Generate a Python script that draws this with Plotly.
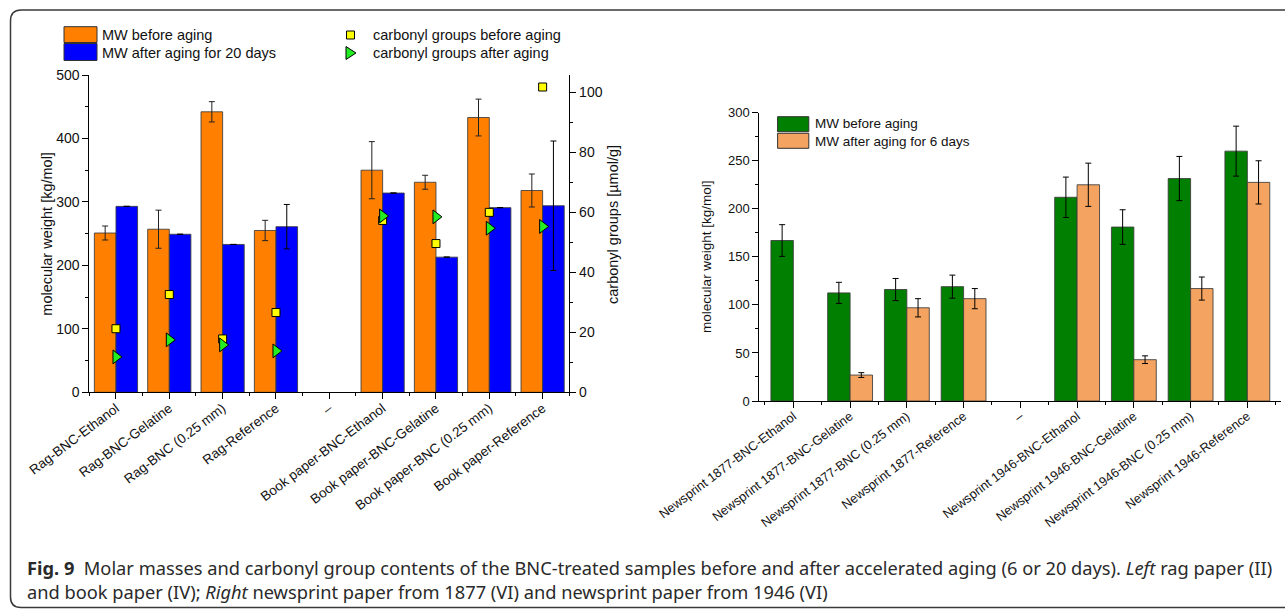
import plotly.graph_objects as go

# ---------------- data ----------------
cats_left = ["Rag-BNC-Ethanol", "Rag-BNC-Gelatine", "Rag-BNC (0.25 mm)", "Rag-Reference", "–",
             "Book paper-BNC-Ethanol", "Book paper-BNC-Gelatine", "Book paper-BNC (0.25 mm)",
             "Book paper-Reference"]
mw_before_left = [251, 257, 442, 255, None, 350, 331, 433, 318]
mw_before_left_err = [11, 30, 16, 16, None, 45, 11, 29, 26]
mw_after20 = [293, 249, 233, 261, None, 314, 213, 291, 294]
mw_after20_err = [None, None, None, 35, None, None, None, None, 102]
carbonyl_before = [21.2, 32.6, 17.8, 26.6, None, 57.3, 49.6, 60.0, 101.8]
carbonyl_after = [11.8, 17.5, 15.8, 13.8, None, 58.8, 58.5, 54.7, 55.3]

cats_right = ["Newsprint 1877-BNC-Ethanol", "Newsprint 1877-BNC-Gelatine", "Newsprint 1877-BNC (0.25 mm)",
              "Newsprint 1877-Reference", "–", "Newsprint 1946-BNC-Ethanol", "Newsprint 1946-BNC-Gelatine",
              "Newsprint 1946-BNC (0.25 mm)", "Newsprint 1946-Reference"]
mw_before_right = [167, 112.5, 116, 119, None, 212, 181, 231.5, 260]
mw_before_right_err = [16.5, 11, 11.5, 12, None, 21, 18, 23, 26]
mw_after6 = [None, 27, 97, 106.5, None, 225, 43, 117, 227.5]
mw_after6_err = [None, 2.5, 9.5, 10.5, None, 22.5, 4, 12, 22.5]

W, H = 1285, 609
def px(x):
    return x / W
def py(y):
    return 1 - y / H

xl = list(range(len(cats_left)))
xr = list(range(len(cats_right)))

ORANGE = "#FF7F00"
BLUE = "#0000FF"
GREEN = "#007F00"
LORANGE = "#F4A460"
EDGE = "rgba(60,60,60,0.85)"
FONT = "Liberation Sans, Arial, sans-serif"

fig = go.Figure()

def errs(vals):
    return [v if v is not None else float("nan") for v in vals]

bw_l = 0.405
fig.add_trace(go.Bar(x=xl, y=mw_before_left, width=bw_l, offset=-bw_l,
                     marker=dict(color=ORANGE, line=dict(color=EDGE, width=1)),
                     error_y=dict(type="data", array=errs(mw_before_left_err), color="#222", thickness=1, width=3),
                     xaxis="x", yaxis="y", showlegend=False))
fig.add_trace(go.Bar(x=xl, y=mw_after20, width=bw_l, offset=0,
                     marker=dict(color=BLUE, line=dict(color=EDGE, width=1)),
                     error_y=dict(type="data", array=errs(mw_after20_err), color="#000", thickness=1, width=3),
                     xaxis="x", yaxis="y", showlegend=False))
fig.add_trace(go.Scatter(x=xl, y=carbonyl_before, mode="markers",
                         marker=dict(symbol="square", size=8, color="#FFFF00", line=dict(color="#000", width=1)),
                         xaxis="x", yaxis="y2", showlegend=False))
fig.add_trace(go.Scatter(x=xl, y=carbonyl_after, mode="markers",
                         marker=dict(symbol="triangle-right", size=12, color="#22EE22", line=dict(color="#000", width=1)),
                         xaxis="x", yaxis="y2", showlegend=False))

bw_r = 0.395
fig.add_trace(go.Bar(x=xr, y=mw_before_right, width=bw_r, offset=-bw_r,
                     marker=dict(color=GREEN, line=dict(color=EDGE, width=1)),
                     error_y=dict(type="data", array=errs(mw_before_right_err), color="#000", thickness=1, width=3),
                     xaxis="x2", yaxis="y3", showlegend=False))
fig.add_trace(go.Bar(x=xr, y=mw_after6, width=bw_r, offset=0,
                     marker=dict(color=LORANGE, line=dict(color=EDGE, width=1)),
                     error_y=dict(type="data", array=errs(mw_after6_err), color="#000", thickness=1, width=3),
                     xaxis="x2", yaxis="y3", showlegend=False))

axis_common = dict(showgrid=False, zeroline=False, showline=True, linecolor="#000", linewidth=1,
                   ticks="outside", tickcolor="#000", ticklen=6, tickwidth=1, automargin=False)

fig.update_layout(
    width=W, height=H, margin=dict(l=0, r=0, t=0, b=0),
    paper_bgcolor="white", plot_bgcolor="rgba(0,0,0,0)", barmode="overlay",
    font=dict(family=FONT, color="#111"),
    xaxis=dict(domain=[px(89.3), px(569.3)], range=[-0.5, 8.5], anchor="y",
               tickmode="array", tickvals=xl, ticktext=cats_left, tickangle=-37,
               tickfont=dict(size=13.5, family=FONT), ticklabelstandoff=-4,
               minor=dict(tickmode="array", tickvals=[i + 0.5 for i in range(-1, 9)], ticklen=3,
                          ticks="outside", tickcolor="#000"),
               **axis_common),
    yaxis=dict(domain=[py(392.3), py(75)], range=[0, 500], dtick=100, anchor="x",
               tickfont=dict(size=14, family=FONT),
               minor=dict(dtick=50, ticklen=3, ticks="outside", tickcolor="#000"),
               **axis_common),
    yaxis2=dict(overlaying="y", side="right", range=[0, 105.8], dtick=20, anchor="x",
                tickfont=dict(size=14, family=FONT),
                minor=dict(dtick=10, ticklen=3, ticks="outside", tickcolor="#000"),
                **axis_common),
    xaxis2=dict(domain=[px(759.3), px(1281.4)], range=[-0.6, 8.6], anchor="y3",
                tickmode="array", tickvals=xr, ticktext=cats_right, tickangle=-37,
                tickfont=dict(size=12.8, family=FONT), ticklabelstandoff=-4,
                minor=dict(tickmode="array", tickvals=[i + 0.5 for i in range(-1, 9)], ticklen=3,
                           ticks="outside", tickcolor="#000"),
                **axis_common),
    yaxis3=dict(domain=[py(401), py(112.7)], range=[0, 300], dtick=50, anchor="x2",
                tickfont=dict(size=13, family=FONT),
                minor=dict(dtick=25, ticklen=3, ticks="outside", tickcolor="#000"),
                **axis_common),
)

ann = []
shapes = []
# axis titles
ann.append(dict(text="molecular weight [kg/mol]", x=px(37), y=py(233.7), xref="paper", yref="paper",
                textangle=-90, showarrow=False, font=dict(size=14.5, family=FONT, color="#111")))
ann.append(dict(text="carbonyl groups [µmol/g]", x=px(613), y=py(225), xref="paper", yref="paper",
                textangle=-90, showarrow=False, font=dict(size=14.5, family=FONT, color="#111")))
ann.append(dict(text="molecular weight [kg/mol]", x=px(707), y=py(256.9), xref="paper", yref="paper",
                textangle=-90, showarrow=False, font=dict(size=13.5, family=FONT, color="#111")))

# left legend
def swatch(x0, y0, x1, y1, color):
    shapes.append(dict(type="rect", xref="paper", yref="paper", x0=px(x0), x1=px(x1), y0=py(y1), y1=py(y0),
                       fillcolor=color, line=dict(color="#333", width=1)))

def label(text, x, y, size):
    ann.append(dict(text=text, x=px(x), y=py(y), xref="paper", yref="paper", xanchor="left", yanchor="middle",
                    showarrow=False, font=dict(size=size, family=FONT, color="#111")))

swatch(64, 26.7, 97, 42.5, ORANGE)
swatch(64, 43.5, 97, 60.5, BLUE)
label("MW before aging", 99.5, 35, 14.5)
label("MW after aging for 20 days", 99.5, 52.5, 14.5)
shapes.append(dict(type="rect", xref="paper", yref="paper", x0=px(346.5), x1=px(354.5), y0=py(39), y1=py(31),
                   fillcolor="#FFFF00", line=dict(color="#000", width=1)))
shapes.append(dict(type="path", xref="paper", yref="paper",
                   path=f"M {px(346)},{py(46.5)} L {px(356)},{py(53)} L {px(346)},{py(59.5)} Z",
                   fillcolor="#22EE22", line=dict(color="#000", width=1)))
label("carbonyl groups before aging", 371, 35, 14.5)
label("carbonyl groups after aging", 371, 52.5, 14.5)

# right legend
swatch(777.6, 116.7, 808.8, 131.7, GREEN)
swatch(777.6, 133.3, 808.8, 148.3, LORANGE)
label("MW before aging", 813, 124, 13.5)
label("MW after aging for 6 days", 813, 141, 13.5)

# caption
CAP = "Noto Sans, Open Sans, sans-serif"
ann.append(dict(text="<b>Fig. 9</b>  Molar masses and carbonyl group contents of the BNC-treated samples before and after accelerated aging (6 or 20 days). <i>Left</i> rag paper (II)",
                x=px(25), y=py(567), xref="paper", yref="paper", xanchor="left", yanchor="middle",
                showarrow=False, font=dict(size=18.25, family=CAP, color="#2a2a2a")))
ann.append(dict(text="and book paper (IV); <i>Right</i> newsprint paper from 1877 (VI) and newsprint paper from 1946 (VI)",
                x=px(25), y=py(591), xref="paper", yref="paper", xanchor="left", yanchor="middle",
                showarrow=False, font=dict(size=18.25, family=CAP, color="#2a2a2a")))

# frame
shapes.append(dict(type="path", xref="paper", yref="paper",
                   path=(f"M {px(1300)},{py(10)} L {px(21)},{py(10)} Q {px(10.5)},{py(10)} {px(10.5)},{py(21)} "
                         f"L {px(10.5)},{py(597)} Q {px(10.5)},{py(607.5)} {px(21)},{py(607.5)} L {px(1300)},{py(607.5)}"),
                   line=dict(color="#3a3a3a", width=1.5)))

fig.update_layout(annotations=ann, shapes=shapes)

fig.write_html("out.html", config={"displayModeBar": False},
               post_script="document.body.style.margin='0';document.body.style.overflow='hidden';")
